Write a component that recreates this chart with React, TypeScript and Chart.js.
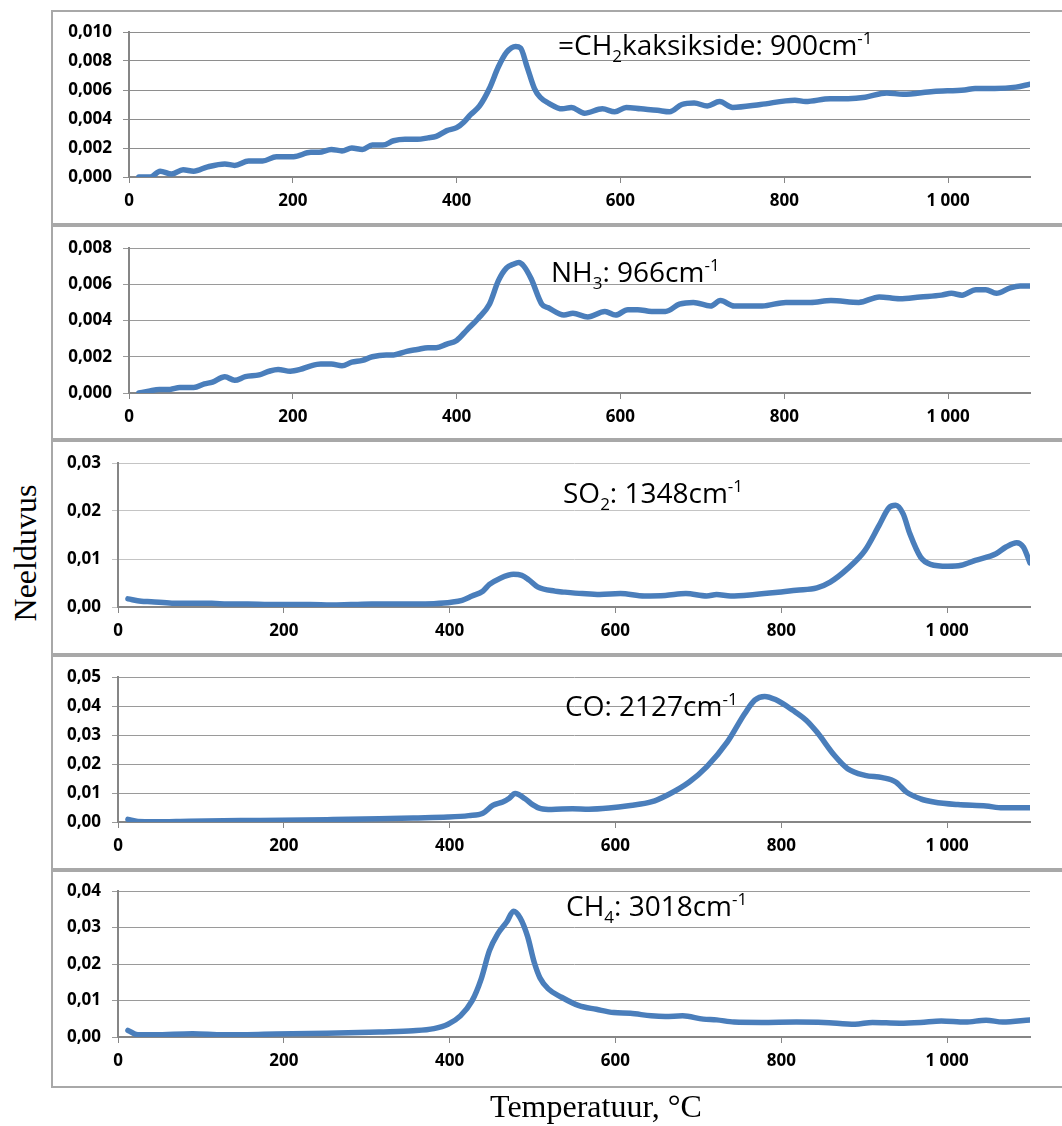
import React, { useEffect, useRef } from 'react';
import { Chart, registerables } from 'chart.js';

Chart.register(...registerables);

// ---------- DATA ----------
const tempTicks = [0, 200, 400, 600, 800, 1000];

// [temperature °C, absorbance]
const ch2Points: [number, number][] = [
  [12, 0.0000], [26, 0.0000], [38, 0.0004], [52, 0.0002], [66, 0.0005], [79, 0.0004], [96, 0.0007],
  [117, 0.0009], [129, 0.0008], [146, 0.0011], [163, 0.0011], [180, 0.0014], [201, 0.0014], [222, 0.0017],
  [232, 0.0017], [247, 0.0019], [260, 0.0018], [272, 0.0020], [285, 0.0019], [297, 0.0022], [310, 0.0022],
  [323, 0.0025], [337, 0.0026], [352, 0.0026], [365, 0.0027], [375, 0.0028], [388, 0.0032], [400, 0.0034],
  [409, 0.0038], [417, 0.0043], [428, 0.0049], [440, 0.0061], [451, 0.0076], [461, 0.0086], [472, 0.0090],
  [478, 0.0089], [486, 0.0076], [495, 0.0061], [502, 0.0055], [512, 0.0051], [529, 0.0047], [540, 0.0048],
  [556, 0.0044], [578, 0.0047], [593, 0.0045], [607, 0.0048], [625, 0.0047], [645, 0.0046], [660, 0.0045],
  [675, 0.0050], [690, 0.0051], [706, 0.0049], [721, 0.0052], [737, 0.0048], [771, 0.0050], [813, 0.0053],
  [826, 0.0052], [856, 0.0054], [878, 0.0054], [899, 0.0055], [925, 0.0058], [945, 0.0057], [982, 0.0059],
  [1020, 0.0060], [1033, 0.0061], [1057, 0.0061], [1083, 0.0062], [1100, 0.0064],
];

const nh3Points: [number, number][] = [
  [12, 0.0000], [24, 0.0001], [37, 0.0002], [50, 0.0002], [62, 0.0003], [79, 0.0003], [92, 0.0005],
  [102, 0.0006], [117, 0.0009], [129, 0.0007], [142, 0.0009], [159, 0.0010], [171, 0.0012], [182, 0.0013],
  [197, 0.0012], [209, 0.0013], [222, 0.0015], [234, 0.0016], [247, 0.0016], [260, 0.0015], [272, 0.0017],
  [285, 0.0018], [297, 0.0020], [314, 0.0021], [323, 0.0021], [339, 0.0023], [352, 0.0024], [365, 0.0025],
  [375, 0.0025], [388, 0.0027], [400, 0.0029], [413, 0.0035], [426, 0.0041], [440, 0.0049], [451, 0.0062],
  [461, 0.0069], [469, 0.0071], [476, 0.0072], [482, 0.0070], [491, 0.0063], [504, 0.0049], [512, 0.0047],
  [531, 0.0043], [542, 0.0044], [560, 0.0042], [581, 0.0045], [594, 0.0043], [609, 0.0046], [621, 0.0046],
  [638, 0.0045], [655, 0.0045], [672, 0.0049], [689, 0.0050], [710, 0.0048], [722, 0.0051], [739, 0.0048],
  [773, 0.0048], [802, 0.0050], [832, 0.0050], [857, 0.0051], [891, 0.0050], [916, 0.0053], [941, 0.0052],
  [966, 0.0053], [992, 0.0054], [1004, 0.0055], [1017, 0.0054], [1034, 0.0057], [1046, 0.0057],
  [1059, 0.0055], [1076, 0.0058], [1088, 0.0059], [1100, 0.0059],
];

const so2Points: [number, number][] = [
  [12, 0.0017], [28, 0.0012], [40, 0.0011], [65, 0.0008], [90, 0.0008], [113, 0.0008], [132, 0.0006],
  [157, 0.0006], [182, 0.0005], [207, 0.0005], [232, 0.0005], [257, 0.0004], [281, 0.0005], [306, 0.0006],
  [336, 0.0006], [360, 0.0006], [381, 0.0007], [402, 0.0010], [415, 0.0014], [427, 0.0023], [440, 0.0033],
  [448, 0.0047], [460, 0.0059], [477, 0.0068], [487, 0.0066], [496, 0.0056], [506, 0.0042], [527, 0.0033],
  [539, 0.0031], [560, 0.0028], [581, 0.0026], [606, 0.0028], [635, 0.0023], [660, 0.0024], [685, 0.0028],
  [710, 0.0023], [722, 0.0026], [739, 0.0023], [768, 0.0026], [793, 0.0030], [818, 0.0035], [843, 0.0040],
  [859, 0.0052], [880, 0.0080], [901, 0.0118], [918, 0.0170], [930, 0.0207], [938, 0.0212], [947, 0.0194],
  [955, 0.0153], [968, 0.0104], [980, 0.0089], [1001, 0.0085], [1017, 0.0087], [1034, 0.0097],
  [1059, 0.0111], [1071, 0.0125], [1084, 0.0134], [1092, 0.0125], [1100, 0.0092],
];

const coPoints: [number, number][] = [
  [12, 0.0009], [24, 0.0002], [44, 0.0001], [86, 0.0003], [148, 0.0005], [198, 0.0006], [252, 0.0008],
  [315, 0.0011], [356, 0.0014], [398, 0.0017], [423, 0.0022], [440, 0.0030], [452, 0.0057], [464, 0.0069],
  [472, 0.0082], [479, 0.0098], [491, 0.0080], [500, 0.0060], [510, 0.0046], [523, 0.0043], [548, 0.0046],
  [568, 0.0044], [592, 0.0048], [618, 0.0057], [643, 0.0069], [664, 0.0095], [689, 0.0138], [710, 0.0190],
  [735, 0.0276], [756, 0.0374], [768, 0.0420], [780, 0.0433], [793, 0.0422], [814, 0.0385], [830, 0.0351],
  [843, 0.0310], [864, 0.0230], [880, 0.0184], [901, 0.0161], [922, 0.0153], [938, 0.0138], [951, 0.0103],
  [968, 0.0080], [984, 0.0069], [1013, 0.0060], [1047, 0.0055], [1067, 0.0049], [1100, 0.0049],
];

const ch4Points: [number, number][] = [
  [12, 0.0018], [24, 0.0006], [44, 0.0006], [90, 0.0009], [127, 0.0006], [190, 0.0008], [252, 0.0010],
  [315, 0.0014], [356, 0.0017], [381, 0.0023], [398, 0.0035], [413, 0.0058], [427, 0.0099], [438, 0.0159],
  [448, 0.0237], [458, 0.0283], [469, 0.0316], [477, 0.0345], [485, 0.0327], [494, 0.0276], [502, 0.0205],
  [509, 0.0162], [519, 0.0132], [535, 0.0109], [556, 0.0086], [577, 0.0076], [598, 0.0067], [618, 0.0065],
  [643, 0.0058], [660, 0.0056], [681, 0.0058], [706, 0.0049], [722, 0.0047], [743, 0.0041], [776, 0.0040],
  [818, 0.0041], [851, 0.0040], [889, 0.0035], [910, 0.0040], [943, 0.0038], [968, 0.0040], [993, 0.0044],
  [1022, 0.0041], [1047, 0.0046], [1067, 0.0041], [1100, 0.0047],
];

const ch2YTicks = [0, 0.002, 0.004, 0.006, 0.008, 0.010];
const nh3YTicks = [0, 0.002, 0.004, 0.006, 0.008];
const so2YTicks = [0, 0.01, 0.02, 0.03];
const coYTicks = [0, 0.01, 0.02, 0.03, 0.04, 0.05];
const ch4YTicks = [0, 0.01, 0.02, 0.03, 0.04];

// label pieces: [text, kind] kind 0 = normal, -1 = subscript, 1 = superscript
type Piece = [string, number];
const ch2Label: Piece[] = [['=CH', 0], ['2', -1], ['kaksikside: 900cm', 0], ['-1', 1]];
const nh3Label: Piece[] = [['NH', 0], ['3', -1], [': 966cm', 0], ['-1', 1]];
const so2Label: Piece[] = [['SO', 0], ['2', -1], [': 1348cm', 0], ['-1', 1]];
const coLabel: Piece[] = [['CO: 2127cm', 0], ['-1', 1]];
const ch4Label: Piece[] = [['CH', 0], ['4', -1], [': 3018cm', 0], ['-1', 1]];

const yAxisTitle = 'Neelduvus';
const xAxisTitle = 'Temperatuur, °C';

// ---------- LAYOUT ----------
const PAGE_W = 1062;
const PAGE_H = 1126;
const FRAME_LEFT = 51;
const PLOT_RIGHT = 1030;
const LINE_COLOR = '#4a7ebb';
const AXIS_COLOR = '#868686';
const TICK_FONT = { family: 'Open Sans', weight: 'bold', size: 17 };

type Panel = {
  points: [number, number][];
  yTicks: number[];
  decimals: number;
  label: Piece[];
  frameTop: number;
  frameBottom: number;
  plotTop: number;
  plotBottom: number;
  plotLeft: number;
  gridColor: string;
  labelX: number;
  labelBaseline: number;
};

const panels: Panel[] = [
  { points: ch2Points, yTicks: ch2YTicks, decimals: 3, label: ch2Label, frameTop: 10, frameBottom: 225,
    plotTop: 32, plotBottom: 177, plotLeft: 129, gridColor: '#8e8e8e', labelX: 558, labelBaseline: 55 },
  { points: nh3Points, yTicks: nh3YTicks, decimals: 3, label: nh3Label, frameTop: 225, frameBottom: 440,
    plotTop: 248, plotBottom: 393, plotLeft: 129, gridColor: '#9a9a9a', labelX: 551, labelBaseline: 282 },
  { points: so2Points, yTicks: so2YTicks, decimals: 2, label: so2Label, frameTop: 440, frameBottom: 655,
    plotTop: 463, plotBottom: 607, plotLeft: 118, gridColor: '#c4c4c4', labelX: 563, labelBaseline: 503 },
  { points: coPoints, yTicks: coYTicks, decimals: 2, label: coLabel, frameTop: 655, frameBottom: 870,
    plotTop: 677, plotBottom: 822, plotLeft: 118, gridColor: '#9a9a9a', labelX: 565, labelBaseline: 716 },
  { points: ch4Points, yTicks: ch4YTicks, decimals: 2, label: ch4Label, frameTop: 870, frameBottom: 1088,
    plotTop: 891, plotBottom: 1037, plotLeft: 118, gridColor: '#9a9a9a', labelX: 566, labelBaseline: 916 },
];

const fmtTemp = (v: number) => String(v).replace(/\B(?=(\d{3})+(?!\d))/g, ' ');

function PanelChart({ p }: { p: Panel }) {
  const ref = useRef<HTMLCanvasElement>(null);
  const w = PAGE_W - FRAME_LEFT;
  const h = p.frameBottom - p.frameTop;

  useEffect(() => {
    const canvas = ref.current;
    if (!canvas) return;
    const annot = {
      id: 'annot',
      afterDraw(chart: any) {
        const ctx = chart.ctx as CanvasRenderingContext2D;
        ctx.save();
        ctx.fillStyle = '#000';
        ctx.textBaseline = 'alphabetic';
        ctx.textAlign = 'left';
        let x = p.labelX - FRAME_LEFT;
        const base = p.labelBaseline - p.frameTop;
        for (const [t, k] of p.label) {
          const size = k === 0 ? 28 : 17;
          ctx.font = `${size}px "Open Sans"`;
          const y = k === 0 ? base : k < 0 ? base + 7 : base - 11;
          ctx.fillText(t, x, y);
          x += ctx.measureText(t).width;
        }
        ctx.restore();
      },
    };
    const chart = new Chart(canvas, {
      type: 'line',
      data: {
        datasets: [
          {
            data: p.points.map(([x, y]) => ({ x, y })),
            borderColor: LINE_COLOR,
            borderWidth: 5.5,
            pointRadius: 0,
            fill: false,
            tension: 0.4,
            cubicInterpolationMode: 'monotone',
            borderCapStyle: 'round',
            borderJoinStyle: 'round',
          } as any,
        ],
      },
      options: {
        responsive: false,
        animation: false,
        devicePixelRatio: 1,
        layout: {
          padding: { left: 0, top: p.plotTop - p.frameTop, right: PAGE_W - PLOT_RIGHT, bottom: 0 },
        },
        plugins: { legend: { display: false }, tooltip: { enabled: false }, title: { display: false } },
        scales: {
          x: {
            type: 'linear',
            min: 0,
            max: 1100,
            afterBuildTicks: (s: any) => { s.ticks = tempTicks.map((v) => ({ value: v })); },
            afterFit: (s: any) => { s.height = p.frameBottom - p.plotBottom; },
            grid: { drawOnChartArea: false, drawTicks: true, tickLength: 6, color: AXIS_COLOR, lineWidth: 1 },
            border: { display: true, color: AXIS_COLOR, width: 2 },
            ticks: {
              autoSkip: false,
              maxRotation: 0,
              padding: 8,
              color: '#000',
              font: TICK_FONT,
              callback: (v: any) => fmtTemp(Number(v)),
            },
          },
          y: {
            type: 'linear',
            min: 0,
            max: p.yTicks[p.yTicks.length - 1],
            afterBuildTicks: (s: any) => { s.ticks = p.yTicks.map((v) => ({ value: v })); },
            afterFit: (s: any) => { s.width = p.plotLeft - FRAME_LEFT; },
            grid: { drawOnChartArea: true, drawTicks: true, tickLength: 6, color: p.gridColor, lineWidth: 1 },
            border: { display: true, color: AXIS_COLOR, width: 2 },
            ticks: {
              padding: 11,
              color: '#000',
              font: TICK_FONT,
              callback: (v: any) => Number(v).toFixed(p.decimals).replace('.', ','),
            },
          },
        },
      } as any,
      plugins: [annot as any],
    });
    return () => chart.destroy();
  }, []);

  return (
    <>
      <div
        style={{
          position: 'absolute',
          left: FRAME_LEFT,
          top: p.frameTop,
          width: PAGE_W + 20 - FRAME_LEFT,
          height: h,
          border: '2px solid #a8a8a8',
          boxSizing: 'border-box',
        }}
      />
      <canvas
        ref={ref}
        width={w}
        height={h}
        style={{ position: 'absolute', left: FRAME_LEFT, top: p.frameTop, width: w, height: h }}
      />
    </>
  );
}

export default function App() {
  const serif = '"Liberation Serif", "Times New Roman", serif';
  return (
    <div
      style={{
        position: 'absolute',
        left: 0,
        top: 0,
        width: PAGE_W,
        height: PAGE_H,
        background: '#fff',
        overflow: 'hidden',
      }}
    >
      {panels.map((p, i) => (
        <PanelChart key={i} p={p} />
      ))}
      <div
        style={{
          position: 'absolute',
          left: 25 - 150,
          top: 553 - 20,
          width: 300,
          height: 40,
          lineHeight: '40px',
          textAlign: 'center',
          fontFamily: serif,
          fontSize: 32,
          color: '#000',
          transform: 'rotate(-90deg)',
          transformOrigin: '150px 20px',
          whiteSpace: 'nowrap',
        }}
      >
        {yAxisTitle}
      </div>
      <div
        style={{
          position: 'absolute',
          left: 596 - 200,
          top: 1086,
          width: 400,
          height: 40,
          lineHeight: '40px',
          textAlign: 'center',
          fontFamily: serif,
          fontSize: 32,
          color: '#000',
          whiteSpace: 'nowrap',
        }}
      >
        {xAxisTitle}
      </div>
    </div>
  );
}
